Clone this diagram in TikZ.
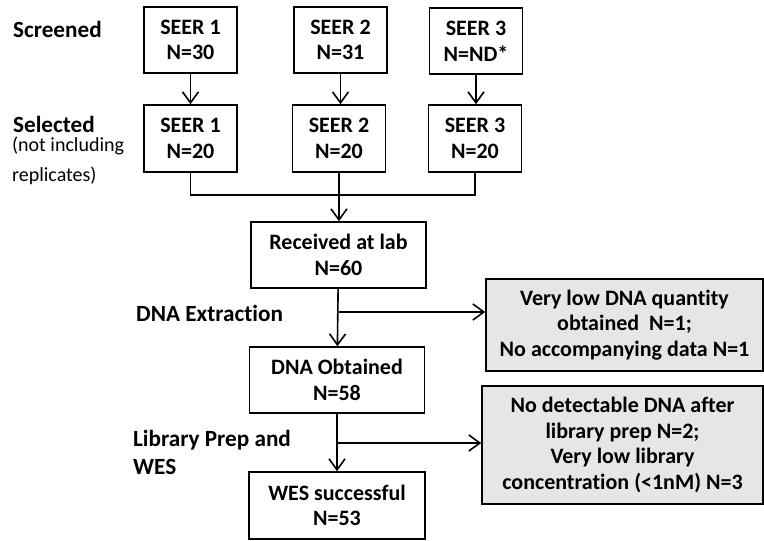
\documentclass[tikz,border=0pt]{standalone}
\usepackage{fontspec}
\setmainfont{Carlito}[Ligatures=NoCommon]
\usetikzlibrary{positioning,arrows.meta}
\definecolor{dropgray}{RGB}{230,230,230}
\tikzset{
	every picture/.style={/utils/exec={\fontsize{11}{12.8}\selectfont}},
	stage/.style={draw, rectangle, line width=0.8pt, inner sep=0pt, align=center, font=\bfseries},
	dropbox/.style={stage, fill=dropgray},
	phase/.style={anchor=west, align=left, font=\bfseries\fontsize{11.6}{14}\selectfont},
}

\begin{document}
\begin{tikzpicture}[x=0.5pt, y=-0.5pt,
			>={Straight Barb[length=5.5pt,width=8pt]}, ->, line width=0.8pt]
			\useasboundingbox (0,0) rectangle (764,540);
			% screened
			\node[stage, minimum width=46.5pt, minimum height=33pt] (scr1) at (190.5,40) {SEER 1\\N=30};
			\node[stage, minimum width=46.5pt, minimum height=33pt] (scr2) at (340.5,40) {SEER 2\\N=31};
			\node[stage, minimum width=46.5pt, minimum height=33pt] (scr3) at (476,41) {SEER 3\\N=ND*};
			% selected
			\node[stage, minimum width=46.5pt, minimum height=33.5pt] (sel1) at (190.5,138.5) {SEER 1\\N=20};
			\node[stage, minimum width=46.5pt, minimum height=33.5pt] (sel2) at (339,138.5) {SEER 2\\N=20};
			\node[stage, minimum width=46.5pt, minimum height=33.5pt] (sel3) at (475,138.5) {SEER 3\\N=20};
			% lab steps
			\node[stage, minimum width=87.5pt, minimum height=33pt] (recv) at (338.5,255) {Received at lab\\N=60};
			\node[stage, minimum width=87.5pt, minimum height=33pt] (dna) at (337,380) {DNA Obtained\\N=58};
			\node[stage, minimum width=88pt, minimum height=33.5pt] (wes) at (337,505.5) {WES successful\\N=53};
			\node[dropbox, minimum width=138.5pt, minimum height=46pt] (drop1) at (624.5,325) {Very low DNA quantity\\obtained\ \ N=1;\\No accompanying data N=1};
			\node[dropbox, minimum width=140.5pt, minimum height=59pt] (drop2) at (622.5,445) {No detectable DNA after\\library prep N=2;\\Very low library\\concentration (<1nM) N=3};
			% side labels
			\node[phase] (lscr) at (5,29) {Screened};
			\node[phase] (lsel) at (5,124) {Selected};
			\node[anchor=west, align=left, font=\fontsize{10}{15}\selectfont] (lnote) at (4,161) {(not including\\replicates)};
			\node[phase] (lext) at (128,313) {DNA Extraction};
			\node[phase] (llib) at (125,452) {Library Prep and\\WES};

			\coordinate (merge) at (339,195);
			\coordinate (xsplit) at (338.5,312);
			\coordinate (lsplit) at (337,443);

			\draw (scr1) -- (sel1);
			\draw (scr2.south) -- (scr2.south |- sel2.north);
			\draw (scr3.south) -- (scr3.south |- sel3.north);
			\draw[-] (sel1.south) |- (merge) -| (sel3.south);
			\draw[-] (sel2.south) -- (merge);
			\draw (merge) -- (merge |- recv.north);
			\draw (recv) -- (dna);
			\draw (xsplit) -- (xsplit -| drop1.west);
			\draw (dna) -- (wes);
			\draw (lsplit) -- (lsplit -| drop2.west);
		\end{tikzpicture}
\end{document}
